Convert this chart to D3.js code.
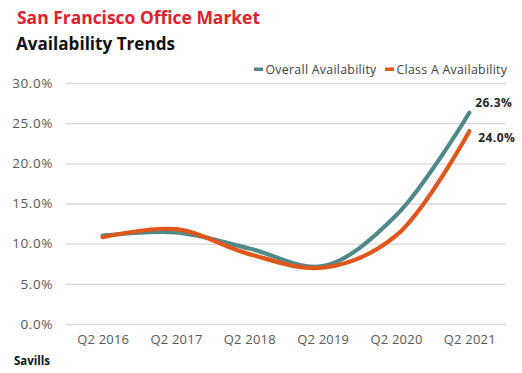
<!DOCTYPE html>
<html>
<head>
<meta charset="utf-8">
<script src="https://cdn.jsdelivr.net/npm/d3@7"></script>
<style>
  body { margin: 0; background: #fff; }
  svg { display: block; }
</style>
</head>
<body>
<svg id="chart" width="522" height="373"></svg>
<script>
// Chart data
const quarters = ['Q2 2016', 'Q2 2017', 'Q2 2018', 'Q2 2019', 'Q2 2020', 'Q2 2021'];
const overallAvailability = [11.0, 11.4, 9.4, 7.2, 13.5, 26.3];
const classAAvailability = [10.8, 11.8, 8.7, 7.0, 11.0, 24.0];
const yTicks = [0, 5, 10, 15, 20, 25, 30];

const svg = d3.select('#chart');

// plot area
const plot = { left: 66, right: 506, top: 83, bottom: 324 };

const x = d3.scalePoint()
  .domain(quarters)
  .range([plot.left, plot.right])
  .padding(0.5);

const y = d3.scaleLinear()
  .domain([0, 30])
  .range([plot.bottom, plot.top]);

// Titles
svg.append('text')
  .attr('x', 17).attr('y', 24)
  .attr('font-family', 'Open Sans, sans-serif')
  .attr('font-weight', 700)
  .attr('font-size', 18)
  .attr('fill', '#e3202b')
  .attr('textLength', 243)
  .attr('lengthAdjust', 'spacingAndGlyphs')
  .text('San Francisco Office Market');

svg.append('text')
  .attr('x', 16).attr('y', 50)
  .attr('font-family', 'Open Sans, sans-serif')
  .attr('font-weight', 700)
  .attr('font-size', 18)
  .attr('fill', '#111')
  .attr('textLength', 159)
  .attr('lengthAdjust', 'spacingAndGlyphs')
  .text('Availability Trends');

// Gridlines + y axis
const yAxis = svg.append('g')
  .attr('transform', `translate(${plot.left},0)`)
  .call(d3.axisLeft(y)
    .tickValues(yTicks)
    .tickSize(-(plot.right - plot.left))
    .tickPadding(13)
    .tickFormat(d => d.toFixed(1) + '%'));
yAxis.select('.domain').remove();
yAxis.selectAll('.tick line').attr('stroke', '#d9d9d9').attr('stroke-width', 1.3);
yAxis.selectAll('.tick text')
  .attr('font-family', 'Open Sans, sans-serif')
  .attr('font-size', 13.5)
  .attr('letter-spacing', 0.6)
  .attr('fill', '#595959');

// x axis
const xAxis = svg.append('g')
  .attr('transform', `translate(0,${plot.bottom})`)
  .call(d3.axisBottom(x).tickSize(0).tickPadding(11));
xAxis.select('.domain').remove();
xAxis.selectAll('.tick text')
  .attr('font-family', 'Open Sans, sans-serif')
  .attr('font-size', 13)
  .attr('letter-spacing', 0.2)
  .attr('fill', '#595959');

// Lines
const series = [
  { name: 'Overall Availability', values: overallAvailability, color: '#4f8a8b' },
  { name: 'Class A Availability', values: classAAvailability, color: '#e0561b' }
];

const line = d3.line()
  .x((d, i) => x(quarters[i]))
  .y(d => y(d))
  .curve(d3.curveCatmullRom.alpha(0.5));

svg.selectAll('.series')
  .data(series)
  .enter()
  .append('path')
  .attr('class', 'series')
  .attr('fill', 'none')
  .attr('stroke', d => d.color)
  .attr('stroke-width', 4.2)
  .attr('stroke-linecap', 'round')
  .attr('d', d => line(d.values));

// End labels
const last = quarters.length - 1;
svg.append('text')
  .attr('x', x(quarters[last]) + 6)
  .attr('y', y(overallAvailability[last]) - 6)
  .attr('font-family', 'Open Sans, sans-serif')
  .attr('font-weight', 700)
  .attr('font-size', 12)
  .attr('letter-spacing', 0.4)
  .attr('fill', '#262626')
  .text(overallAvailability[last].toFixed(1) + '%');

svg.append('text')
  .attr('x', x(quarters[last]) + 9)
  .attr('y', y(classAAvailability[last]) + 11)
  .attr('font-family', 'Open Sans, sans-serif')
  .attr('font-weight', 700)
  .attr('font-size', 12)
  .attr('letter-spacing', 0.4)
  .attr('fill', '#262626')
  .text(classAAvailability[last].toFixed(1) + '%');

// Legend
const legendPos = [254, 385];
const legend = svg.selectAll('.legend')
  .data(series)
  .enter()
  .append('g')
  .attr('class', 'legend')
  .attr('transform', (d, i) => `translate(${legendPos[i]},69)`);
legend.append('rect')
  .attr('x', 0).attr('y', -1.5)
  .attr('width', 9).attr('height', 3.5)
  .attr('fill', d => d.color);
legend.append('text')
  .attr('x', 11.5).attr('y', 4.5)
  .attr('font-family', 'Open Sans, sans-serif')
  .attr('font-size', 12.3)
  .attr('letter-spacing', 0.3)
  .attr('fill', '#404040')
  .text(d => d.name);

// Source
svg.append('text')
  .attr('x', 14).attr('y', 365)
  .attr('font-family', 'Open Sans, sans-serif')
  .attr('font-weight', 700)
  .attr('font-size', 11.5)
  .attr('fill', '#111')
  .text('Savills');
</script>
</body>
</html>
